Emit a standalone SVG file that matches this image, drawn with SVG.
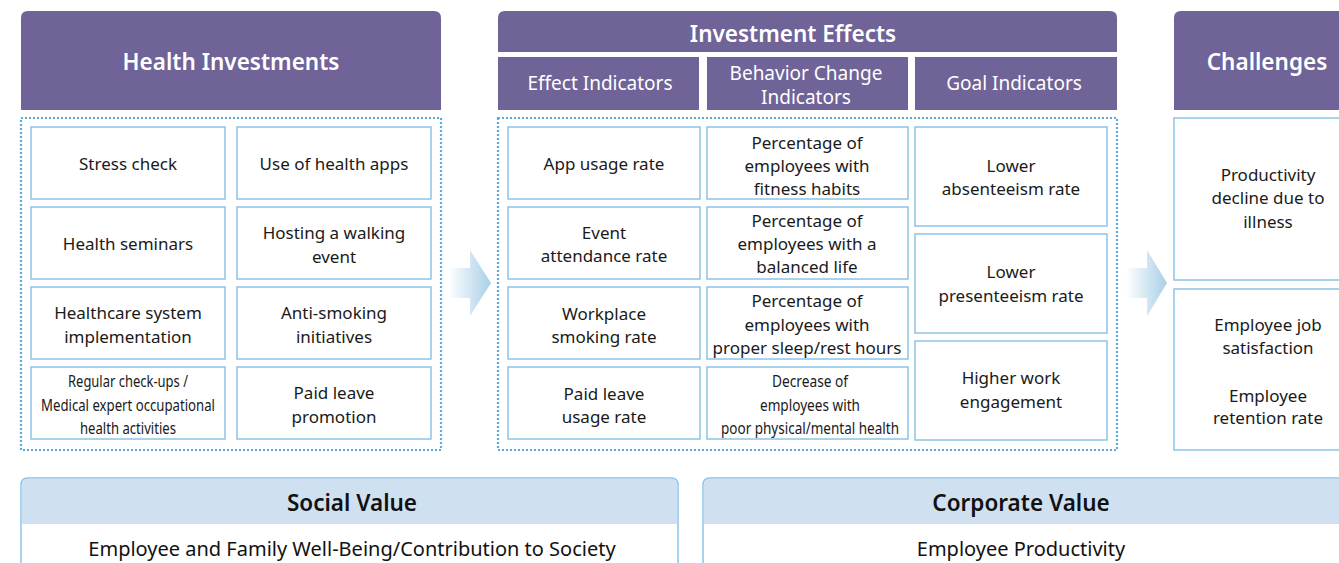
<svg xmlns="http://www.w3.org/2000/svg" width="1339" height="563" viewBox="0 0 1339 563">
<style>
.hdr{fill:#6f6398}
.hdt{fill:#fff;font-family:"Noto Sans","Open Sans",sans-serif;font-weight:600;font-size:22.5px;text-anchor:middle;dominant-baseline:central}
.sub{fill:#fff;font-family:"Noto Sans","Open Sans",sans-serif;font-size:19px;text-anchor:middle;dominant-baseline:central}
.box{fill:#fff;stroke:#8cc3e6;stroke-width:1.5}
.dot{fill:none;stroke:#5aaadc;stroke-width:2.2;stroke-dasharray:2 2}
.t{fill:#1a1a1a;font-family:"Noto Sans","Open Sans",sans-serif;font-size:17px;text-anchor:middle;dominant-baseline:central}
.n{fill:#1a1a1a;font-family:"Noto Sans","Open Sans",sans-serif;font-size:15.5px;text-anchor:middle;dominant-baseline:central}
.vb{fill:#fff;stroke:#8cc3e6;stroke-width:1.5}
.vh{fill:#cfe0f0}
.vt{fill:#111;font-family:"Noto Sans","Open Sans",sans-serif;font-weight:600;font-size:22.5px;text-anchor:middle;dominant-baseline:central}
.vs{fill:#111;font-family:"Noto Sans","Open Sans",sans-serif;font-size:20px;text-anchor:middle;dominant-baseline:central}
</style>
<defs>
<linearGradient id="ag" x1="0" y1="0" x2="1" y2="0">
<stop offset="0" stop-color="#ffffff"/>
<stop offset="1" stop-color="#a9cfe8"/>
</linearGradient>
</defs>
<rect width="1339" height="563" fill="#fff"/>

<g id="health-investments">
<path class="hdr" d="M21,110 V18 Q21,11 28,11 H434 Q441,11 441,18 V110 Z"/>
<text class="hdt" x="231" y="61">Health Investments</text>
<rect class="dot" x="21" y="118" width="420" height="332"/>
<g id="hi-stress"><rect class="box" x="31" y="127" width="194" height="72"/><text class="t" x="128" y="163">Stress check</text></g>
<g id="hi-apps"><rect class="box" x="237" y="127" width="194" height="72"/><text class="t" x="334" y="163">Use of health apps</text></g>
<g id="hi-seminars"><rect class="box" x="31" y="207" width="194" height="72"/><text class="t" x="128" y="243">Health seminars</text></g>
<g id="hi-walking"><rect class="box" x="237" y="207" width="194" height="72"/><text class="t" x="334" y="232">Hosting a walking</text><text class="t" x="334" y="256">event</text></g>
<g id="hi-system"><rect class="box" x="31" y="287" width="194" height="72"/><text class="t" x="128" y="312">Healthcare system</text><text class="t" x="128" y="336">implementation</text></g>
<g id="hi-smoking"><rect class="box" x="237" y="287" width="194" height="72"/><text class="t" x="334" y="312">Anti-smoking</text><text class="t" x="334" y="336">initiatives</text></g>
<g id="hi-checkups"><rect class="box" x="31" y="367" width="194" height="72"/>
<text class="n" x="128" y="381" textLength="120" lengthAdjust="spacingAndGlyphs">Regular check-ups /</text>
<text class="n" x="128" y="405" textLength="174" lengthAdjust="spacingAndGlyphs">Medical expert occupational</text>
<text class="n" x="128" y="428" textLength="96" lengthAdjust="spacingAndGlyphs">health activities</text></g>
<g id="hi-leave"><rect class="box" x="237" y="367" width="194" height="72"/><text class="t" x="334" y="392">Paid leave</text><text class="t" x="334" y="416">promotion</text></g>
</g>

<g id="investment-effects">
<path class="hdr" d="M498,52 V18 Q498,11 505,11 H1110 Q1117,11 1117,18 V52 Z"/>
<text class="hdt" x="793" y="33">Investment Effects</text>
<rect class="hdr" x="498" y="57" width="201" height="53"/>
<text class="sub" x="600" y="83">Effect Indicators</text>
<rect class="hdr" x="707" y="57" width="201" height="53"/>
<text class="sub" x="806" y="73">Behavior Change</text>
<text class="sub" x="806" y="97">Indicators</text>
<rect class="hdr" x="915" y="57" width="202" height="53"/>
<text class="sub" x="1014" y="83">Goal Indicators</text>
<rect class="dot" x="498" y="118" width="619" height="332"/>

<g id="ei-app"><rect class="box" x="508" y="127" width="192" height="72"/><text class="t" x="604" y="163">App usage rate</text></g>
<g id="ei-event"><rect class="box" x="508" y="207" width="192" height="72"/><text class="t" x="604" y="232">Event</text><text class="t" x="604" y="255">attendance rate</text></g>
<g id="ei-smoking"><rect class="box" x="508" y="287" width="192" height="72"/><text class="t" x="604" y="313">Workplace</text><text class="t" x="604" y="336">smoking rate</text></g>
<g id="ei-leave"><rect class="box" x="508" y="367" width="192" height="72"/><text class="t" x="604" y="393">Paid leave</text><text class="t" x="604" y="416">usage rate</text></g>

<g id="bc-fitness"><rect class="box" x="707" y="127" width="201" height="72"/><text class="t" x="807" y="142">Percentage of</text><text class="t" x="807" y="165">employees with</text><text class="t" x="807" y="188">fitness habits</text></g>
<g id="bc-balanced"><rect class="box" x="707" y="207" width="201" height="72"/><text class="t" x="807" y="220">Percentage of</text><text class="t" x="807" y="243">employees with a</text><text class="t" x="807" y="266">balanced life</text></g>
<g id="bc-sleep"><rect class="box" x="707" y="287" width="201" height="72"/><text class="t" x="807" y="300">Percentage of</text><text class="t" x="807" y="324">employees with</text><text class="t" x="807" y="347">proper sleep/rest hours</text></g>
<g id="bc-health"><rect class="box" x="707" y="367" width="201" height="72"/>
<text class="n" x="810" y="381" textLength="76" lengthAdjust="spacingAndGlyphs">Decrease of</text>
<text class="n" x="810" y="405" textLength="100" lengthAdjust="spacingAndGlyphs">employees with</text>
<text class="n" x="810" y="428" textLength="178" lengthAdjust="spacingAndGlyphs">poor physical/mental health</text></g>

<g id="gi-absent"><rect class="box" x="915" y="127" width="192" height="99"/><text class="t" x="1011" y="165">Lower</text><text class="t" x="1011" y="188">absenteeism rate</text></g>
<g id="gi-present"><rect class="box" x="915" y="234" width="192" height="99"/><text class="t" x="1011" y="271">Lower</text><text class="t" x="1011" y="295">presenteeism rate</text></g>
<g id="gi-engage"><rect class="box" x="915" y="341" width="192" height="99"/><text class="t" x="1011" y="377">Higher work</text><text class="t" x="1011" y="401">engagement</text></g>
</g>

<g id="challenges">
<path class="hdr" d="M1174,110 V18 Q1174,11 1181,11 H1345 V110 Z"/>
<text class="hdt" x="1267" y="61">Challenges</text>
<g id="ch-productivity"><rect class="box" x="1174" y="118" width="175" height="162"/><text class="t" x="1268" y="174">Productivity</text><text class="t" x="1268" y="197">decline due to</text><text class="t" x="1268" y="221">illness</text></g>
<g id="ch-satisfaction"><rect class="box" x="1174" y="289" width="175" height="161"/><text class="t" x="1268" y="324">Employee job</text><text class="t" x="1268" y="347">satisfaction</text><text class="t" x="1268" y="395">Employee</text><text class="t" x="1268" y="417">retention rate</text></g>
</g>

<g id="connectors">
<path fill="url(#ag)" d="M448,268 H470 V250 L491,283 L470,316 V298 H448 Z"/>
<path fill="url(#ag)" d="M1126,268 H1147 V250 L1167,283 L1147,316 V298 H1126 Z"/>
</g>

<g id="social-value">
<path class="vb" d="M21,570 V485 Q21,478 28,478 H671 Q678,478 678,485 V570 Z"/>
<path class="vh" d="M21.75,524 V485 Q21.75,478.75 28,478.75 H671 Q677.25,478.75 677.25,485 V524 Z"/>
<text class="vt" x="352" y="502">Social Value</text>
<text class="vs" x="352" y="548">Employee and Family Well-Being/Contribution to Society</text>
</g>

<g id="corporate-value">
<path class="vb" d="M703,570 V485 Q703,478 710,478 H1345 V570 Z"/>
<path class="vh" d="M703.75,524 V485 Q703.75,478.75 710,478.75 H1345 V524 Z"/>
<text class="vt" x="1021" y="502">Corporate Value</text>
<text class="vs" x="1021" y="548">Employee Productivity</text>
</g>
</svg>
